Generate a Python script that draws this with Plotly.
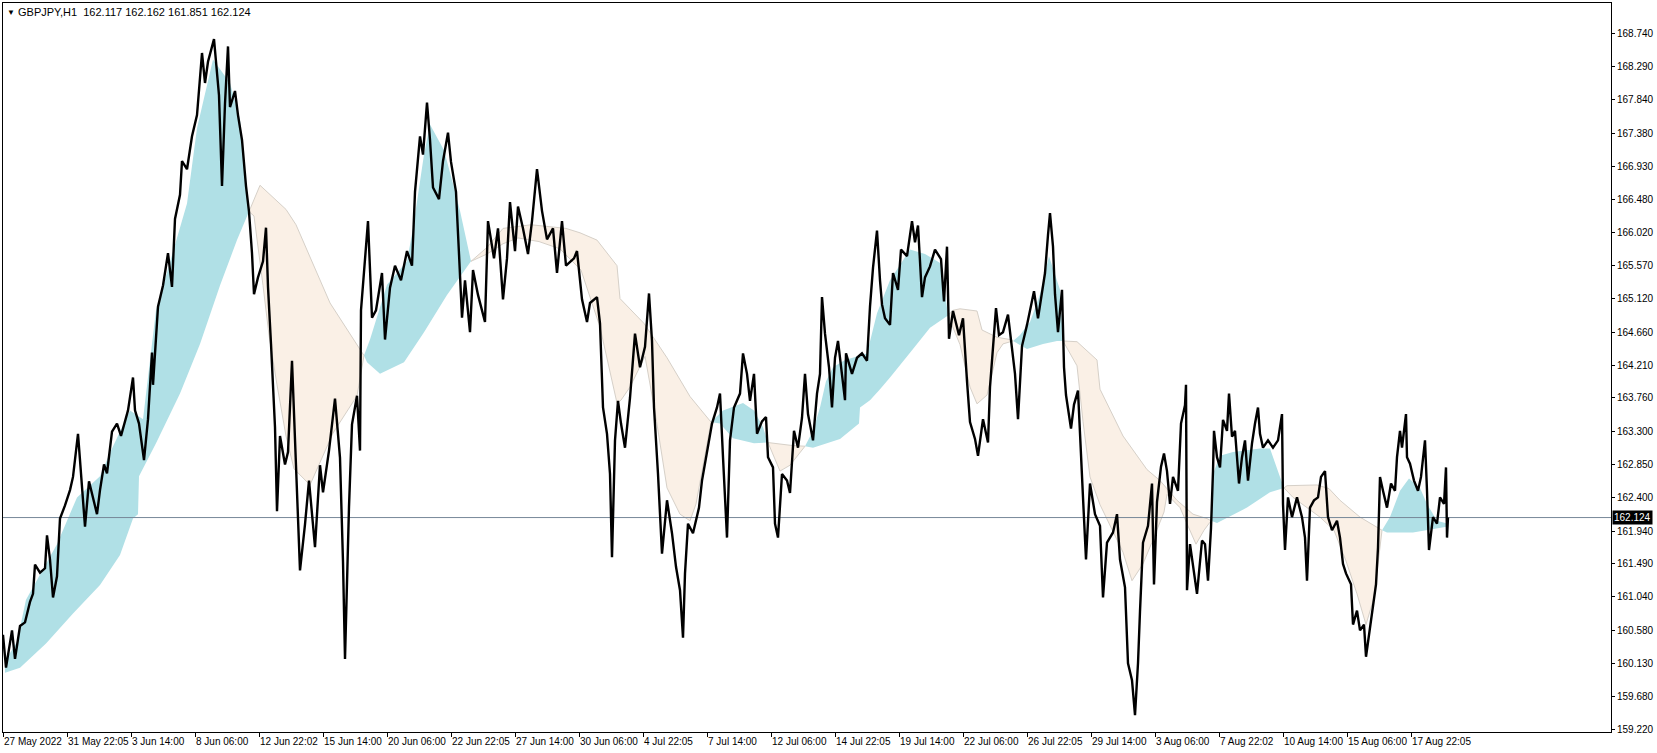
import plotly.graph_objects as go

# GBPJPY H1, 27 May - 19 Aug 2022. x = bar number from the left edge of the chart
price_bar = [0, 3, 9, 12, 17, 22, 27, 30, 32, 37, 42, 44, 47, 50, 54, 57, 62, 67, 70, 75,
             77, 80, 82, 86, 90, 94, 97, 101, 104, 109, 114, 118, 125, 130, 132, 136, 141, 145, 149, 150,
             155, 160, 165, 169, 172, 177, 179, 184, 189, 194, 199, 202, 205, 211, 216, 219, 222, 225, 227, 232,
             235, 239, 243, 246, 249, 251, 255, 260, 263, 265, 268, 272, 274, 277, 282, 285, 289, 292, 295, 297,
             302, 306, 312, 317, 320, 326, 332, 337, 340, 342, 346, 349, 354, 357, 358, 362, 365, 369, 373, 379,
             382, 387, 392, 398, 404, 409, 412, 417, 420, 424, 427, 430, 436, 440, 445, 448, 453, 456, 459, 462,
             467, 470, 475, 482, 485, 491, 495, 500, 504, 507, 512, 515, 520, 525, 529, 534, 539, 544, 550, 554,
             559, 563, 571, 574, 579, 584, 587, 594, 597, 600, 604, 607, 609, 612, 615, 618, 622, 627, 632, 637,
             642, 646, 649, 651, 655, 659, 664, 669, 673, 677, 680, 682, 685, 690, 696, 699, 704, 709, 714, 717,
             720, 724, 727, 731, 737, 740, 744, 747, 751, 754, 759, 763, 765, 770, 772, 775, 779, 784, 787, 791,
             795, 799, 802, 805, 810, 814, 817, 819, 822, 826, 829, 832, 835, 842, 843, 849, 854, 859, 864, 867,
             870, 874, 877, 879, 882, 887, 890, 895, 898, 904, 909, 912, 915, 919, 922, 927, 932, 938, 941, 944,
             946, 950, 956, 960, 964, 967, 972, 975, 980, 985, 987, 993, 996, 1000, 1005, 1008, 1012, 1015, 1019, 1024,
             1027, 1031, 1035, 1039, 1042, 1045, 1047, 1050, 1052, 1055, 1059, 1061, 1063, 1068, 1071, 1075, 1077, 1080, 1083, 1087,
             1092, 1097, 1100, 1104, 1110, 1114, 1117, 1122, 1125, 1129, 1132, 1135, 1137, 1140, 1145, 1149, 1151, 1154, 1158, 1161,
             1164, 1167, 1170, 1175, 1178, 1182, 1183, 1184, 1187, 1190, 1194, 1199, 1202, 1205, 1208, 1210, 1211, 1214, 1217, 1220,
             1224, 1226, 1229, 1232, 1236, 1239, 1242, 1245, 1249, 1252, 1255, 1257, 1260, 1265, 1270, 1275, 1279, 1280, 1282, 1285,
             1289, 1294, 1299, 1302, 1304, 1307, 1311, 1315, 1318, 1322, 1325, 1329, 1334, 1337, 1340, 1343, 1348, 1350, 1354, 1357,
             1361, 1363, 1368, 1370, 1373, 1375, 1377, 1380, 1384, 1388, 1392, 1394, 1397, 1399, 1403, 1404, 1407, 1411, 1415, 1418,
             1422, 1424, 1426, 1430, 1434, 1437, 1441, 1443, 1444, 1445]
price_val = [160.52, 160.07, 160.58, 160.19, 160.64, 160.69, 160.97, 161.08, 161.48, 161.37, 161.43, 161.88, 161.55, 161.03, 161.32, 162.11, 162.29, 162.50, 162.68, 163.27,
             162.91, 162.34, 162.00, 162.62, 162.40, 162.17, 162.50, 162.85, 162.73, 163.30, 163.41, 163.24, 163.59, 164.04, 163.59, 163.41, 162.91, 163.47, 164.38, 163.94,
             165.01, 165.30, 165.74, 165.28, 166.21, 166.54, 167.00, 166.89, 167.34, 167.63, 168.48, 168.07, 168.36, 168.67, 167.90, 166.66, 167.79, 168.57, 167.74, 167.96,
             167.63, 167.29, 166.66, 166.31, 165.74, 165.18, 165.41, 165.63, 166.09, 165.28, 164.50, 163.36, 162.21, 163.24, 162.85, 163.02, 164.27, 163.24, 162.17, 161.40,
             162.03, 162.63, 161.72, 162.84, 162.47, 163.04, 163.75, 162.94, 161.52, 160.19, 162.27, 163.40, 163.79, 163.04, 164.96, 165.73, 166.18, 164.86, 164.96, 165.47,
             164.56, 165.27, 165.57, 165.37, 165.77, 165.57, 166.58, 167.34, 167.09, 167.80, 167.29, 166.64, 166.48, 167.00, 167.39, 166.99, 166.58, 165.73, 164.86, 165.37,
             164.66, 165.51, 165.17, 164.80, 166.18, 165.67, 166.08, 165.11, 165.67, 166.44, 165.77, 166.38, 166.08, 165.73, 166.18, 166.89, 166.32, 165.93, 166.08, 165.47,
             166.18, 165.57, 165.67, 165.77, 165.11, 164.80, 165.06, 165.14, 164.78, 163.63, 163.27, 162.72, 161.58, 163.18, 163.72, 163.41, 163.08, 163.76, 164.64, 164.18,
             164.46, 165.19, 164.54, 163.63, 162.72, 161.63, 162.36, 161.91, 161.45, 161.13, 160.48, 161.36, 162.04, 161.91, 162.26, 162.63, 163.04, 163.41, 163.63, 163.82,
             162.95, 161.85, 163.18, 163.63, 163.82, 164.37, 164.09, 163.72, 164.09, 163.27, 163.44, 163.50, 162.95, 162.81, 162.04, 161.85, 162.72, 162.63, 162.46, 163.31,
             163.08, 163.49, 164.09, 163.54, 163.18, 163.82, 164.09, 165.14, 164.64, 164.18, 163.63, 164.31, 164.54, 163.73, 164.37, 164.09, 164.31, 164.37, 164.27, 165.01,
             165.54, 166.05, 165.37, 165.04, 164.85, 164.76, 165.47, 165.24, 165.79, 165.70, 166.18, 165.89, 166.12, 165.14, 165.41, 165.56, 165.79, 165.66, 165.08, 165.83,
             164.57, 164.95, 164.62, 164.85, 163.99, 163.43, 163.20, 162.97, 163.47, 163.15, 163.91, 164.99, 164.62, 164.66, 164.90, 164.57, 164.09, 163.47, 164.47, 164.76,
             164.95, 165.22, 164.85, 165.18, 165.47, 165.99, 166.29, 165.83, 165.18, 164.66, 165.24, 164.18, 163.80, 163.34, 163.67, 163.86, 163.34, 162.40, 161.55, 162.59,
             162.17, 162.01, 161.03, 161.78, 161.92, 162.17, 161.55, 161.17, 160.13, 159.90, 159.42, 160.13, 160.84, 161.78, 162.01, 162.59, 161.21, 162.34, 162.82, 163.00,
             162.76, 162.31, 162.68, 162.49, 163.41, 163.66, 163.94, 161.13, 161.76, 161.49, 161.08, 161.81, 161.76, 161.26, 161.98, 162.76, 163.31, 162.95, 162.81, 163.46,
             163.31, 163.82, 163.23, 163.31, 162.59, 162.95, 163.18, 162.63, 163.14, 163.41, 163.63, 163.27, 163.08, 163.18, 163.08, 163.18, 163.54, 162.31, 161.68, 162.40,
             162.13, 162.40, 162.13, 161.85, 161.26, 162.26, 162.36, 162.40, 162.68, 162.76, 162.13, 161.95, 162.08, 161.85, 161.49, 161.36, 161.21, 160.66, 160.85, 160.58,
             160.66, 160.22, 160.71, 160.90, 161.21, 161.71, 162.68, 162.49, 162.26, 162.59, 162.49, 162.95, 163.31, 163.08, 163.54, 162.95, 162.86, 162.63, 162.49, 162.68,
             163.18, 162.49, 161.68, 162.13, 162.04, 162.40, 162.31, 162.81, 161.85, 162.124]

# fast line (edge of the fill that sits against the price)
fast_bar = [2, 14, 23, 54, 74, 97, 107, 127, 140, 144, 153, 170, 184, 194, 210, 227, 237, 246,
            251, 260, 266, 274, 283, 291, 307, 330, 354, 361,
            367, 384, 404, 410, 421, 427, 441, 450, 457, 468,
            484, 500, 515, 536, 557, 578, 597, 614, 618, 627, 635, 642, 653, 664, 677, 687, 693, 700, 708,
            720, 740, 751, 760, 765,
            777, 787, 802,
            810, 817, 823, 830, 842, 864, 874, 887, 907, 922, 938, 945,
            957, 967, 974, 984, 994, 1000, 1010,
            1017, 1027, 1037, 1046, 1057, 1060,
            1074, 1080, 1087, 1097, 1107, 1120, 1129, 1140, 1150, 1161, 1164, 1177, 1184, 1193, 1201, 1208,
            1210, 1217, 1230, 1257, 1267, 1277, 1281,
            1290, 1304, 1317, 1331, 1343, 1354, 1363, 1371, 1375, 1379,
            1387, 1397, 1406, 1417, 1424, 1434, 1445]
fast_val = [160.16, 160.42, 161.00, 161.76, 162.40, 162.69, 163.01, 163.59, 163.47, 163.94, 164.96, 165.76, 166.42, 167.45, 168.39, 168.07, 167.57, 166.31,
            166.25, 165.30, 164.62, 163.94, 163.24, 162.79, 162.57, 163.28, 163.79, 164.34,
            164.56, 165.31, 165.63, 166.08, 167.09, 167.50, 167.15, 166.69, 166.32, 165.63,
            165.73, 165.87, 165.95, 165.90, 165.80, 165.51, 164.73, 163.69, 163.73, 163.91, 164.14, 164.33, 163.49, 162.53, 162.17, 162.08, 162.31, 162.81, 163.43,
            163.59, 163.69, 163.59, 163.36, 163.15,
            162.76, 162.84, 163.10,
            163.31, 163.63, 163.99, 164.18, 164.28, 164.37, 164.92, 165.37, 165.79, 165.73, 165.60, 164.89,
            164.49, 163.91, 163.68, 163.80, 164.38, 164.50, 164.54,
            164.62, 164.80, 165.18, 165.70, 165.24, 164.54,
            164.20, 163.44, 162.68, 162.30, 162.01, 161.65, 161.26, 161.49, 161.82, 162.20, 162.44, 162.26, 162.04, 161.76, 161.95, 162.08,
            162.72, 162.97, 163.02, 163.07, 163.07, 162.68, 162.53,
            162.40, 162.26, 162.13, 161.95, 161.53, 161.08, 160.66, 161.03, 161.49, 161.95,
            162.13, 162.49, 162.66, 162.53, 162.31, 162.08, 162.04]

# slow line (outer edge of the fill)
slow_bar = [2, 17, 43, 70, 97, 117, 130, 135, 136, 153, 177, 197, 217, 234, 246,
            257, 283, 293, 327, 357, 361,
            364, 377, 401, 421, 444, 468,
            484, 500, 528, 563, 577, 594, 614, 617, 641, 664, 687, 708,
            717, 730, 751, 765,
            789, 802,
            810, 837, 854, 856, 857, 867, 877, 887, 907, 927, 945,
            950, 957, 974, 979, 994, 1007, 1010,
            1024, 1040, 1054, 1060,
            1074, 1094, 1097, 1120, 1144, 1157, 1174, 1190, 1204, 1208,
            1214, 1244, 1267, 1281,
            1284, 1314, 1326, 1337, 1357, 1379,
            1384, 1410, 1445]
slow_val = [160.00, 160.07, 160.40, 160.81, 161.20, 161.61, 162.11, 162.17, 162.69, 163.14, 163.82, 164.50, 165.30, 165.92, 166.31,
            166.67, 166.34, 166.13, 165.06, 164.41, 164.34,
            164.25, 164.09, 164.25, 164.66, 165.17, 165.63,
            165.82, 166.08, 166.13, 166.08, 166.02, 165.92, 165.57, 165.12, 164.78, 164.31, 163.78, 163.43,
            163.41, 163.21, 163.14, 163.15,
            163.11, 163.10,
            163.08, 163.20, 163.39, 163.41, 163.63, 163.73, 163.88, 164.04, 164.38, 164.72, 164.89,
            164.96, 164.98, 164.95, 164.69, 164.59, 164.56, 164.54,
            164.43, 164.50, 164.54, 164.54,
            164.53, 164.28, 163.88, 163.24, 162.78, 162.63, 162.36, 162.17, 162.11, 162.08,
            162.05, 162.26, 162.47, 162.53,
            162.56, 162.57, 162.52, 162.36, 162.13, 161.95,
            161.92, 161.92, 162.00]

# bars where fast and slow cross, and whether fast is above slow in between
cross_bar = [2, 246, 361, 468, 708, 765, 802, 945, 1010, 1060, 1208, 1281, 1379, 1445]
fast_above = [True, False, True, False, True, False, True, False, True, False, True, False, True]

tick_bar = [0, 64, 128, 192, 256, 320, 384, 448, 512, 576, 640, 704, 768, 832, 896, 960,
            1024, 1088, 1152, 1216, 1280, 1344, 1408]
tick_text = ["27 May 2022", "31 May 22:05", "3 Jun 14:00", "8 Jun 06:00", "12 Jun 22:02", "15 Jun 14:00",
             "20 Jun 06:00", "22 Jun 22:05", "27 Jun 14:00", "30 Jun 06:00", "4 Jul 22:05", "7 Jul 14:00",
             "12 Jul 06:00", "14 Jul 22:05", "19 Jul 14:00", "22 Jul 06:00", "26 Jul 22:05", "29 Jul 14:00",
             "3 Aug 06:00", "7 Aug 22:02", "10 Aug 14:00", "15 Aug 06:00", "17 Aug 22:05"]
price_ticks = [168.740, 168.290, 167.840, 167.380, 166.930, 166.480, 166.020, 165.570, 165.120, 164.660,
               164.210, 163.760, 163.300, 162.850, 162.400, 161.940, 161.490, 161.040, 160.580, 160.130,
               159.680, 159.220]

symbol = "GBPJPY,H1"
last_ohlc = [162.117, 162.162, 161.851, 162.124]

FONT = "Liberation Sans, Arial, sans-serif"
BLUE = "#B0E0E6"
LINEN = "#FAF0E6"
EDGE = "#D6D0C8"

x_range = [0, 1608]
y_range = [159.19, 169.164]

fig = go.Figure()

# filled band between the fast and slow line, one piece per crossing
for i, up in enumerate(fast_above):
    a, b = cross_bar[i], cross_bar[i + 1]
    sx = [x for x in slow_bar if a <= x <= b]
    sy = [v for x, v in zip(slow_bar, slow_val) if a <= x <= b]
    fx = [x for x in fast_bar if a <= x <= b]
    fy = [v for x, v in zip(fast_bar, fast_val) if a <= x <= b]
    edge = "rgba(0,0,0,0)" if up else EDGE
    fig.add_trace(go.Scatter(x=sx, y=sy, mode="lines", line=dict(color=edge, width=1),
                             hoverinfo="skip", showlegend=False))
    fig.add_trace(go.Scatter(x=fx, y=fy, mode="lines", line=dict(color=edge, width=1),
                             fill="tonexty", fillcolor=BLUE if up else LINEN,
                             hoverinfo="skip", showlegend=False))

# bid line
fig.add_trace(go.Scatter(x=x_range, y=[last_ohlc[3]] * 2, mode="lines",
                         line=dict(color="#778899", width=1), hoverinfo="skip", showlegend=False))

# price
fig.add_trace(go.Scatter(x=price_bar, y=price_val, mode="lines",
                         line=dict(color="black", width=2.4), name=symbol, showlegend=False))

fig.add_annotation(x=1, xref="paper", y=last_ohlc[3], yref="y", xanchor="left", yanchor="middle",
                   xshift=1, text=f"{last_ohlc[3]:.3f}", showarrow=False, bgcolor="black", borderpad=1,
                   font=dict(family=FONT, size=10, color="white"))
fig.add_annotation(x=0, xref="paper", y=1, yref="paper", xanchor="left", yanchor="top", xshift=2, yshift=-3,
                   text="\u25bc", showarrow=False, font=dict(family=FONT, size=8, color="black"))
fig.add_annotation(x=0, xref="paper", y=1, yref="paper", xanchor="left", yanchor="top", xshift=13, yshift=-1,
                   text=symbol + "\u00a0\u00a0" + " ".join(f"{v:.3f}" for v in last_ohlc),
                   showarrow=False, font=dict(family=FONT, size=11, color="black"))

fig.update_layout(
    width=1657, height=753, autosize=False,
    margin=dict(l=3, r=46, t=3, b=21),
    paper_bgcolor="white", plot_bgcolor="white",
    showlegend=False,
    hovermode=False,
)
fig.update_xaxes(range=x_range, tickvals=tick_bar, ticktext=tick_text, tickangle=0, automargin=False,
                 ticks="outside", ticklen=4, tickcolor="black", ticklabelposition="outside right",
                 tickfont=dict(family=FONT, size=10, color="black"),
                 showgrid=False, zeroline=False, showline=True, mirror=True, linecolor="black", linewidth=1)
fig.update_yaxes(range=y_range, side="right", tickvals=price_ticks, automargin=False,
                 ticktext=[f"{v:.3f}" for v in price_ticks],
                 ticks="outside", ticklen=3, tickcolor="black",
                 tickfont=dict(family=FONT, size=10, color="black"),
                 showgrid=False, zeroline=False, showline=True, mirror=True, linecolor="black", linewidth=1)

fig.write_html("out.html", config={"displayModeBar": False},
               post_script="document.body.style.margin='0';")
